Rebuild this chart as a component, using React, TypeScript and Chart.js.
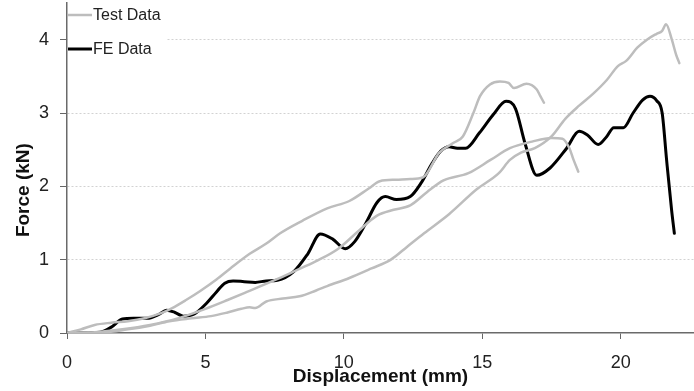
import React, { useEffect, useRef } from "react";
import { Chart, registerables } from "chart.js";

Chart.register(...registerables);

// Test Data curve 1 (upper, ends ~17.2 mm)
const test1X = [0, 0.5, 1.0, 1.6, 2.2, 2.8, 3.4, 3.8, 4.3, 4.8, 5.4, 5.9, 6.6, 7.2, 7.7, 8.5, 9.4, 10.2, 10.9, 11.3, 11.9, 12.4, 12.85, 13.45, 13.95, 14.3, 14.68, 14.92, 15.28, 15.64, 15.95, 16.15, 16.6, 16.97, 17.1, 17.23];
const test1Y = [0, 0.05, 0.11, 0.14, 0.16, 0.2, 0.27, 0.34, 0.45, 0.57, 0.73, 0.88, 1.08, 1.22, 1.36, 1.53, 1.7, 1.8, 1.97, 2.07, 2.09, 2.1, 2.12, 2.46, 2.59, 2.68, 3.0, 3.23, 3.39, 3.43, 3.41, 3.34, 3.4, 3.32, 3.23, 3.14];

// Test Data curve 2 (middle, ends ~18.5 mm)
const test2X = [0, 1, 2, 3, 4, 5, 5.8, 6.5, 7.5, 8.2, 9.0, 9.8, 10.5, 11.2, 11.8, 12.4, 13.0, 13.6, 14.5, 15.3, 16.0, 16.8, 17.5, 17.9, 18.15, 18.3, 18.47];
const test2Y = [0, 0.01, 0.05, 0.11, 0.2, 0.33, 0.45, 0.56, 0.72, 0.84, 0.98, 1.15, 1.38, 1.6, 1.68, 1.74, 1.92, 2.08, 2.18, 2.36, 2.52, 2.61, 2.66, 2.65, 2.52, 2.36, 2.2];

// Test Data curve 3 (lower, ends ~22.1 mm)
const test3X = [0, 1, 2.2, 3, 3.7, 4.5, 5.2, 5.8, 6.3, 6.6, 6.8, 7.2, 7.8, 8.4, 9.0, 9.4, 10.2, 11.0, 11.7, 12.3, 12.9, 13.8, 14.8, 15.6, 16.0, 16.4, 16.9, 17.5, 18.0, 18.5, 19.0, 19.5, 19.9, 20.2, 20.6, 20.95, 21.3, 21.5, 21.64, 21.85, 22.0, 22.12];
const test3Y = [0, 0.0, 0.05, 0.1, 0.16, 0.2, 0.23, 0.28, 0.33, 0.35, 0.34, 0.43, 0.47, 0.5, 0.58, 0.64, 0.75, 0.88, 1.0, 1.18, 1.36, 1.62, 1.96, 2.18, 2.36, 2.46, 2.52, 2.68, 2.92, 3.1, 3.26, 3.45, 3.64, 3.71, 3.89, 4.0, 4.08, 4.12, 4.21, 4.0, 3.8, 3.68];

// FE Data
const feX = [0, 0.6, 1.2, 1.6, 2.0, 2.4, 2.9, 3.3, 3.6, 3.9, 4.2, 4.6, 5.05, 5.4, 5.7, 6.0, 6.4, 6.8, 7.2, 7.6, 8.2, 8.7, 9.15, 9.6, 10.05, 10.4, 10.8, 11.2, 11.5, 11.9, 12.4, 12.8, 13.2, 13.5, 13.8, 14.1, 14.4, 14.9, 15.4, 15.86, 16.2, 16.55, 16.97, 17.45, 18.05, 18.5, 18.8, 19.19, 19.5, 19.75, 20.1, 20.45, 20.8, 21.06, 21.3, 21.5, 21.66, 21.84, 21.94];
const feY = [0, 0, 0.01, 0.08, 0.19, 0.2, 0.2, 0.25, 0.31, 0.28, 0.23, 0.26, 0.41, 0.56, 0.68, 0.71, 0.7, 0.69, 0.71, 0.72, 0.84, 1.08, 1.35, 1.28, 1.15, 1.25, 1.5, 1.78, 1.86, 1.82, 1.86, 2.05, 2.32, 2.48, 2.54, 2.52, 2.52, 2.73, 2.98, 3.16, 3.06, 2.58, 2.15, 2.25, 2.52, 2.75, 2.7, 2.57, 2.68, 2.8, 2.8, 3.0, 3.18, 3.23, 3.17, 3.0, 2.36, 1.68, 1.36];

const xTicks = [0, 5, 10, 15, 20];
const yTicks = [0, 1, 2, 3, 4];

const legendLabels = ["Test Data", "FE Data"];
const xTitle = "Displacement (mm)";
const yTitle = "Force (kN)";

const TEST_COLOR = "#bdbdbd";
const FE_COLOR = "#000000";
const FONT = "'Liberation Sans', Arial, sans-serif";

const toPoints = (xs: number[], ys: number[]) => xs.map((x, i) => ({ x, y: ys[i] }));

const overlayPlugin = {
  id: "overlay",
  afterDraw(chart: any) {
    const { ctx, chartArea } = chart;
    ctx.save();
    // legend box
    ctx.fillStyle = "#ffffff";
    ctx.fillRect(chartArea.left + 1, chartArea.top, 98, 62);
    const lx0 = chartArea.left + 1;
    const lx1 = chartArea.left + 25;
    const rows = [
      { y: chartArea.top + 12, color: TEST_COLOR, w: 2.5, label: legendLabels[0] },
      { y: chartArea.top + 46, color: FE_COLOR, w: 3, label: legendLabels[1] },
    ];
    ctx.font = `16px ${FONT}`;
    ctx.textBaseline = "middle";
    ctx.textAlign = "left";
    rows.forEach((r) => {
      ctx.strokeStyle = r.color;
      ctx.lineWidth = r.w;
      ctx.beginPath();
      ctx.moveTo(lx0, r.y);
      ctx.lineTo(lx1, r.y);
      ctx.stroke();
      ctx.fillStyle = "#222222";
      ctx.fillText(r.label, lx1 + 1, r.y + 1);
    });
    // y axis title
    const cy = chartArea.top + (chartArea.bottom - chartArea.top) * 0.567;
    ctx.translate(24, cy);
    ctx.rotate(-Math.PI / 2);
    ctx.font = `bold 19px ${FONT}`;
    ctx.textAlign = "center";
    ctx.fillStyle = "#111111";
    ctx.fillText(yTitle, 0, 0);
    ctx.restore();
  },
};

export default function App() {
  const canvasRef = useRef<HTMLCanvasElement | null>(null);

  useEffect(() => {
    const canvas = canvasRef.current;
    if (!canvas) return;
    const lineDs = (label: string, xs: number[], ys: number[], color: string, width: number) => ({
      label,
      data: toPoints(xs, ys),
      borderColor: color,
      backgroundColor: color,
      borderWidth: width,
      pointRadius: 0,
      fill: false,
      cubicInterpolationMode: "monotone" as const,
      borderCapStyle: "round" as const,
      borderJoinStyle: "round" as const,
    });
    const chart = new Chart(canvas, {
      type: "line",
      data: {
        datasets: [
          lineDs(legendLabels[0], test1X, test1Y, TEST_COLOR, 2.5),
          lineDs(legendLabels[0], test2X, test2Y, TEST_COLOR, 2.5),
          lineDs(legendLabels[0], test3X, test3Y, TEST_COLOR, 2.5),
          lineDs(legendLabels[1], feX, feY, FE_COLOR, 3),
        ],
      },
      options: {
        responsive: false,
        animation: false,
        layout: { padding: { top: 3, right: 0, bottom: 0, left: 0 } },
        plugins: { legend: { display: false }, tooltip: { enabled: false } },
        scales: {
          x: {
            type: "linear",
            min: 0,
            max: 22.65,
            afterBuildTicks: (s: any) => {
              s.ticks = xTicks.map((v) => ({ value: v }));
            },
            afterFit: (s: any) => {
              s.height = 58;
              s.paddingLeft = 0;
              s.paddingRight = 0;
            },
            grid: {
              drawOnChartArea: false,
              drawTicks: true,
              tickLength: 6,
              tickColor: "#666666",
              tickWidth: 1,
            },
            border: { display: true, color: "#6a6a6a", width: 1.5 },
            ticks: {
              font: { family: FONT, size: 18 },
              color: "#222222",
              padding: 13,
              maxRotation: 0,
            },
            title: {
              display: true,
              text: xTitle,
              font: { family: FONT, size: 19, weight: "bold" },
              color: "#111111",
              padding: { top: 0, bottom: 3 },
            },
          },
          y: {
            type: "linear",
            min: 0,
            max: 4.5,
            afterBuildTicks: (s: any) => {
              s.ticks = yTicks.map((v) => ({ value: v }));
            },
            afterFit: (s: any) => {
              s.width = 67;
              s.paddingTop = 0;
              s.paddingBottom = 0;
            },
            grid: {
              color: (c: any) => (c.tick && c.tick.value === 0 ? "rgba(0,0,0,0)" : "#d2d2d2"),
              lineWidth: 1,
              drawTicks: true,
              tickLength: 7,
              tickColor: "#666666",
              tickWidth: 1,
              tickBorderDash: [],
            },
            border: { display: true, color: "#6a6a6a", width: 1.5, dash: [2, 2] },
            ticks: {
              font: { family: FONT, size: 18 },
              color: "#222222",
              padding: 11,
            },
            title: { display: false },
          },
        },
      },
      plugins: [overlayPlugin],
    });
    return () => chart.destroy();
  }, []);

  return (
    <div style={{ position: "fixed", left: 0, top: 0, width: 694, height: 391, background: "#fff" }}>
      <canvas ref={canvasRef} width={694} height={391} style={{ display: "block" }} />
    </div>
  );
}
